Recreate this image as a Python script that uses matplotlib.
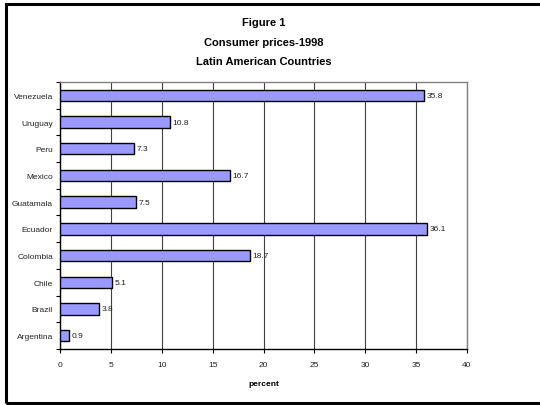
import matplotlib.pyplot as plt
import matplotlib.patches as patches
import numpy as np

plt.rcParams['font.family'] = ['Liberation Sans', 'DejaVu Sans']

# data, bottom to top
countries = ['Argentina', 'Brazil', 'Chile', 'Colombia', 'Ecuador',
             'Guatamala', 'Mexico', 'Peru', 'Uruguay', 'Venezuela']
prices = [0.9, 3.8, 5.1, 18.7, 36.1, 7.5, 16.7, 7.3, 10.8, 35.8]
xticks = [0, 5, 10, 15, 20, 25, 30, 35, 40]

fig = plt.figure(figsize=(5.4, 4.06), dpi=100)
ax = fig.add_axes([60/540, 1 - 350/406, 407/540, 267/406])

y = np.arange(len(countries))
ax.barh(y, prices, height=0.43, color='#9999ff', edgecolor='black',
        linewidth=1.0, zorder=3)

# value labels next to each bar
for yi, v in zip(y, prices):
    ax.text(v + 0.25, yi, str(v), va='center', ha='left', fontsize=6,
            color='#222222', zorder=4)

ax.set_xlim(0, 40)
ax.set_ylim(-0.5, len(countries) - 0.5)
ax.set_xticks(xticks)
ax.set_xticklabels([str(t) for t in xticks], fontsize=6, color='#222222')
ax.set_yticks(y)
ax.set_yticklabels(countries, fontsize=6, color='#222222')
ax.set_yticks(np.arange(-0.5, len(countries)), minor=True)
ax.tick_params(axis='y', which='major', length=0, pad=5)
ax.tick_params(axis='y', which='minor', length=3, width=0.8, direction='out')
ax.tick_params(axis='x', length=3, width=0.8, direction='out', pad=6)

ax.grid(axis='x', color='#404040', linewidth=0.8, zorder=0)
ax.set_axisbelow(True)
for s in ['top', 'right']:
    ax.spines[s].set_color('#808080')
    ax.spines[s].set_linewidth(1.0)
for s in ['left', 'bottom']:
    ax.spines[s].set_color('black')
    ax.spines[s].set_linewidth(1.0)

ax.set_xlabel('percent', fontsize=6, fontweight='bold', labelpad=8)

title_x = (60 + 467) / 2 / 540
fig.text(title_x, 1 - 23/406, 'Figure 1', ha='center', va='center',
         fontsize=8, fontweight='bold')
fig.text(title_x, 1 - 43/406, 'Consumer prices-1998', ha='center',
         va='center', fontsize=8, fontweight='bold')
fig.text(title_x, 1 - 62/406, 'Latin American Countries', ha='center',
         va='center', fontsize=8, fontweight='bold')

# outer frame, right side runs off the image
frame = patches.Rectangle((5.5/540, 1 - 404/406), 1.1, 399/406,
                          transform=fig.transFigure, fill=False,
                          edgecolor='black', linewidth=2.2)
fig.patches.append(frame)

fig.savefig('out.png', dpi=100)
